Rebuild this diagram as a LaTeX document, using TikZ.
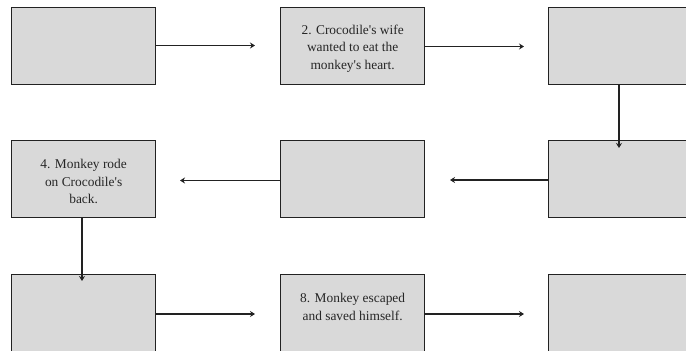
\documentclass[tikz,border=0pt]{standalone}
\usepackage{fontspec}
\setmainfont{Liberation Serif}
\usetikzlibrary{arrows.meta}
\definecolor{boxfill}{HTML}{D9D9D9}
\definecolor{boxline}{HTML}{222222}
\definecolor{txt}{HTML}{262626}
\newcommand{\apos}{\textquotesingle}
\begin{document}
\begin{tikzpicture}[x=1pt,y=-1pt,
  stepbox/.style={draw=boxline, line width=1.3pt, fill=boxfill, minimum width=144pt, minimum height=77pt,
    inner sep=0pt, align=center, text=txt, text height=49pt,
    font=\fontsize{13.4pt}{17.5pt}\selectfont, anchor=north west},
  flow/.style={draw=boxline, line width=1.1pt, -{Stealth[length=5pt,width=6pt]}}
]
\path[use as bounding box, clip] (0,0) rectangle (686,351);

% row 1
\node[stepbox] (b1) at (11,7) {};
\node[stepbox] (b2) at (280,7) {2. Crocodile\apos s wife\\wanted to eat the\\monkey\apos s heart.};
\node[stepbox] (b3) at (548,7) {};
% row 2
\node[stepbox] (b4) at (11,140) {4. Monkey rode\\on Crocodile\apos s\\back.};
\node[stepbox] (b5) at (280,140) {};
\node[stepbox] (b6) at (548,140) {};
% row 3
\node[stepbox] (b7) at (11,274) {};
\node[stepbox] (b8) at (280,274) {8. Monkey escaped\\and saved himself.\\\mbox{}};
\node[stepbox] (b9) at (548,274) {};

% free arrow ends
\coordinate (e1) at (255,45.5);
\coordinate (e2) at (524,46.5);
\coordinate (e3) at (619,148);
\coordinate (e4) at (450,180);
\coordinate (e5) at (180,180.5);
\coordinate (e6) at (82,281);
\coordinate (e7) at (255,314);
\coordinate (e8) at (524,314);

\draw[flow] (b1.east |- e1) -- (e1);
\draw[flow] (b2.east |- e2) -- (e2);
\draw[flow] (b3.south -| e3) -- (e3);
\draw[flow] (b6.west |- e4) -- (e4);
\draw[flow] (b5.west |- e5) -- (e5);
\draw[flow] (b4.south -| e6) -- (e6);
\draw[flow] (b7.east |- e7) -- (e7);
\draw[flow] (b8.east |- e8) -- (e8);
\end{tikzpicture}
\end{document}
